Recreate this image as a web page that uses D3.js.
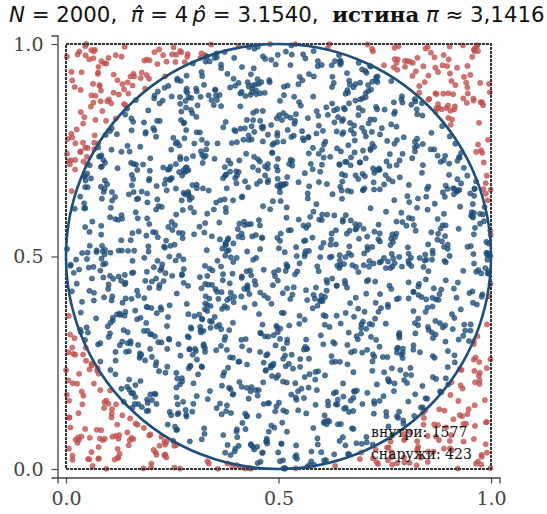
<!DOCTYPE html>
<meta charset="utf-8">
<style>
  body { margin: 0; background: #fff; }
  svg text { white-space: pre; }
</style>
<body>
<script src="https://d3js.org/d3.v7.min.js"></script>
<script>
  // counts
  var nTotal = 2000,
      nInside = 1577,
      nOutside = 423;
  var piHat = "3.1540",
      piTrue = "3,1416";
  var tickValues = [0, 0.5, 1],
      tickLabels = ["0.0", "0.5", "1.0"];

  // the sample itself cannot be read dot by dot, so a fixed seed stands in for it,
  // keeping exactly the inside / outside counts printed on the chart
  function seeded(a) {
    return function() {
      a |= 0; a = a + 0x6D2B79F5 | 0;
      var t = Math.imul(a ^ a >>> 15, 1 | a);
      t = t + Math.imul(t ^ t >>> 7, 61 | t) ^ t;
      return ((t ^ t >>> 14) >>> 0) / 4294967296;
    };
  }
  var rnd = seeded(20240),
      inside = [], outside = [];
  while (inside.length < nInside || outside.length < nOutside) {
    var px = rnd(), py = rnd();
    var isIn = (px - 0.5) * (px - 0.5) + (py - 0.5) * (py - 0.5) <= 0.25;
    if (isIn && inside.length < nInside) inside.push([px, py]);
    if (!isIn && outside.length < nOutside) outside.push([px, py]);
  }

  var width = 547, height = 514;
  var serif = "'DejaVu Serif', serif",
      sans = "'DejaVu Sans', sans-serif";

  var x = d3.scaleLinear().domain([-0.02, 1.02]).range([57.5, 499.5]);
  var y = d3.scaleLinear().domain([-0.02, 1.02]).range([477.5, 35.5]);

  var svg = d3.select("body").append("svg")
      .attr("width", width)
      .attr("height", height);

  // faint grid
  var grid = svg.append("g").attr("stroke", "#ccc").attr("stroke-width", 0.8)
      .attr("stroke-dasharray", "1,3").attr("opacity", 0.7);
  tickValues.forEach(function(v) {
    grid.append("line").attr("x1", x(v)).attr("x2", x(v)).attr("y1", y(-0.02)).attr("y2", y(1.02));
    grid.append("line").attr("y1", y(v)).attr("y2", y(v)).attr("x1", x(-0.02)).attr("x2", x(1.02));
  });

  var g = svg.append("g");

  function drawDots(data, cls, color) {
    g.selectAll("circle." + cls)
      .data(data)
      .enter().append("circle")
        .attr("class", cls)
        .attr("cx", function(d) { return x(d[0]); })
        .attr("cy", function(d) { return y(d[1]); })
        .attr("r", 2.6)
        .attr("fill", color)
        .attr("stroke", color)
        .attr("stroke-width", 0.6)
        .attr("fill-opacity", 0.78)
        .attr("stroke-opacity", 0.85);
  }
  drawDots(outside, "out", "#c0504d");
  drawDots(inside, "in", "#1f4e79");

  // unit square, dashed
  svg.append("rect")
    .attr("x", x(0)).attr("y", y(1))
    .attr("width", x(1) - x(0)).attr("height", y(0) - y(1))
    .attr("fill", "none")
    .attr("stroke", "#333")
    .attr("stroke-width", 2)
    .attr("stroke-dasharray", "3,1");

  // circle of radius 0.5
  svg.append("ellipse")
    .attr("cx", x(0.5)).attr("cy", y(0.5))
    .attr("rx", x(1) - x(0.5)).attr("ry", y(0) - y(0.5))
    .attr("fill", "none")
    .attr("stroke", "#1f4e79")
    .attr("stroke-width", 2.6);

  // axes (left and bottom only)
  var xAxis = d3.axisBottom(x).tickValues(tickValues)
      .tickFormat(function(d, i) { return tickLabels[i]; }).tickSizeOuter(0).tickSize(6).tickPadding(8);
  var yAxis = d3.axisLeft(y).tickValues(tickValues)
      .tickFormat(function(d, i) { return tickLabels[i]; }).tickSizeOuter(0).tickSize(6).tickPadding(8);

  var gx = svg.append("g").attr("transform", "translate(0," + y(-0.02) + ")").call(xAxis);
  var gy = svg.append("g").attr("transform", "translate(" + x(-0.02) + ",0)").call(yAxis);
  [gx, gy].forEach(function(a) {
    a.attr("font-family", serif).attr("font-size", 19);
    a.select(".domain").attr("stroke", "#444").attr("stroke-width", 1.3);
    a.selectAll(".tick line").attr("stroke", "#444").attr("stroke-width", 1.2);
    a.selectAll(".tick text")
      .style("fill", "#444")
      .style("font-family", serif)
      .style("font-size", "19px");
  });

  // counts
  var info = svg.append("g").style("font-family", serif).style("font-size", "14px").style("fill", "#111");
  info.append("text").attr("x", 371).attr("y", 437).text("внутри: " + nInside);
  info.append("text").attr("x", 371).attr("y", 459).text("снаружи: " + nOutside);

  // title: one line of mixed math / bold text, fitted to the span it has in the original
  var title = svg.append("text")
      .attr("x", 9).attr("y", 22)
      .style("font-family", sans)
      .style("font-size", "20px")
      .style("fill", "#111");
  title.append("tspan").style("font-style", "italic").text("N");
  title.append("tspan").text(" = " + nTotal + ",  ");
  title.append("tspan").style("font-style", "italic").text("\u03c0\u0302");
  title.append("tspan").text(" = 4");
  title.append("tspan").style("font-style", "italic").text("\u2009p\u0302");
  title.append("tspan").text(" = " + piHat + ",  ");
  title.append("tspan").style("font-family", serif).style("font-weight", "bold").text("истина");
  title.append("tspan").text(" ");
  title.append("tspan").style("font-style", "italic").text("\u03c0");
  title.append("tspan").text(" \u2248 " + piTrue);

  var tw = title.node().getComputedTextLength();
  title.style("font-size", (20 * 536 / tw) + "px");
</script>
</body>
</html>
